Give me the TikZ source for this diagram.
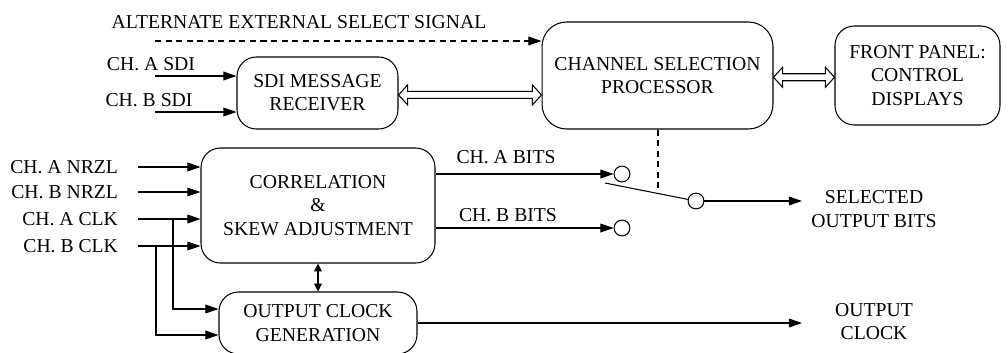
\documentclass[tikz,border=0pt]{standalone}
\usepackage{fontspec}
\setmainfont{Liberation Serif}
\usetikzlibrary{arrows.meta,positioning,calc}

\begin{document}
\begin{tikzpicture}[x=0.02cm, y=-0.02cm, line width=0.6pt, every node/.style={font=\fontsize{11.2}{13.2}\selectfont}]
  \tikzset{
    block/.style={draw, rounded corners=11pt, align=center, inner sep=0pt},
    port/.style={draw, circle, minimum size=9pt, inner sep=0pt},
    lbl/.style={align=center, inner sep=2pt},
    arr/.style={-{Triangle[length=7.5pt,width=5pt]}},
    hollow/.style={line join=miter, to path={let \p1=(\tikztostart), \p2=(\tikztotarget) in
      (\x1,\y1) -- (\x1+5.2pt,\y1+5.7pt) -- (\x1+5.2pt,\y1+2pt) -- (\x2-5.2pt,\y2+2pt) -- (\x2-5.2pt,\y2+5.7pt)
      -- (\x2,\y2) -- (\x2-5.2pt,\y2-5.7pt) -- (\x2-5.2pt,\y2-2pt) -- (\x1+5.2pt,\y1-2pt) -- (\x1+5.2pt,\y1-5.7pt) -- cycle}}
  }
  \useasboundingbox (0,0) rectangle (1008,352);

  % blocks
  \node[block, minimum width=3.22cm, minimum height=1.44cm] (sdi) at (317.5,93) {SDI MESSAGE\\RECEIVER};
  \node[block, rounded corners=14pt, minimum width=4.62cm, minimum height=2.14cm] (csp) at (657.5,75.5) {CHANNEL SELECTION\\PROCESSOR};
  \node[block, minimum width=3.3cm, minimum height=1.98cm] (fp) at (917.5,75.5) {FRONT PANEL:\\CONTROL\\DISPLAYS};
  \node[block, minimum width=4.68cm, minimum height=2.3cm] (corr) at (318,205.5) {CORRELATION\\\&\\SKEW ADJUSTMENT};
  \node[block, minimum width=3.96cm, minimum height=1.24cm] (ocg) at (318,323) {OUTPUT CLOCK\\GENERATION};

  % select signal
  \node[lbl] (alt) at (299,22) {ALTERNATE EXTERNAL SELECT SIGNAL};
  \coordinate (altst) at (155,41);
  \draw[arr, dash pattern=on 3.5pt off 2.5pt] (altst) -- (altst -| csp.west);

  % SDI inputs
  \node[lbl] (asdi) at (151,64) {CH. A SDI};
  \node[lbl] (bsdi) at (149,100) {CH. B SDI};
  \coordinate (asdist) at (155,76);
  \coordinate (bsdist) at (155,112);
  \draw[arr] (asdist) -- (asdist -| sdi.west);
  \draw[arr] (bsdist) -- (bsdist -| sdi.west);

  \draw[hollow] ([yshift=-1.1pt]sdi.east) to ([yshift=-1.1pt]sdi.east -| csp.west);
  \draw[hollow] ([yshift=-1pt]csp.east) to ([yshift=-1pt]fp.west);

  % data and clock inputs
  \node[lbl, anchor=east] (anrzl) at (122,167) {CH. A NRZL};
  \node[lbl, anchor=east] (bnrzl) at (122,192) {CH. B NRZL};
  \node[lbl, anchor=east] (aclk) at (122,219) {CH. A CLK};
  \node[lbl, anchor=east] (bclk) at (122,246) {CH. B CLK};
  \draw[arr, shorten <=9pt] (anrzl) -- (anrzl -| corr.west);
  \draw[arr, shorten <=9pt] (bnrzl) -- (bnrzl -| corr.west);
  \draw[arr, shorten <=9pt] (aclk) -- (aclk -| corr.west);
  \draw[arr, shorten <=9pt] (bclk) -- (bclk -| corr.west);

  \coordinate (brA) at (173,309);
  \coordinate (brB) at (156,335);
  \draw[arr] (brA |- aclk) |- (ocg.west |- brA);
  \draw[arr] (brB |- bclk) |- (ocg.west |- brB);

  \draw[{Triangle[length=4.5pt,width=4.5pt]}-{Triangle[length=4.5pt,width=4.5pt]}] (corr.south) -- (ocg.north);

  % selector switch
  \node[port] (ca) at (622,174) {};
  \node[port] (cb) at (622,228) {};
  \node[port] (cs) at (696,201) {};
  \draw[arr] (corr.east |- ca) -- (ca.west);
  \draw[arr] (corr.east |- cb) -- (cb.west);
  \node[lbl] (abits) at (506,157) {CH. A BITS};
  \node[lbl] (bbits) at (508,215) {CH. B BITS};
  \coordinate (swpt) at (605,183);
  \draw (swpt) -- (cs);
  \coordinate (swtop) at (658,191);
  \draw[dash pattern=on 3.5pt off 2.5pt] (csp.south -| swtop) -- (swtop);

  % outputs
  \coordinate (selend) at (802,201);
  \draw[arr] (cs.east) -- (selend);
  \node[lbl] (selout) at (874,209) {SELECTED\\OUTPUT BITS};
  \coordinate (clkend) at (802,323);
  \draw[arr] (ocg.east) -- (clkend);
  \node[lbl] (outclk) at (874,321.5) {OUTPUT\\CLOCK};
\end{tikzpicture}
\end{document}
